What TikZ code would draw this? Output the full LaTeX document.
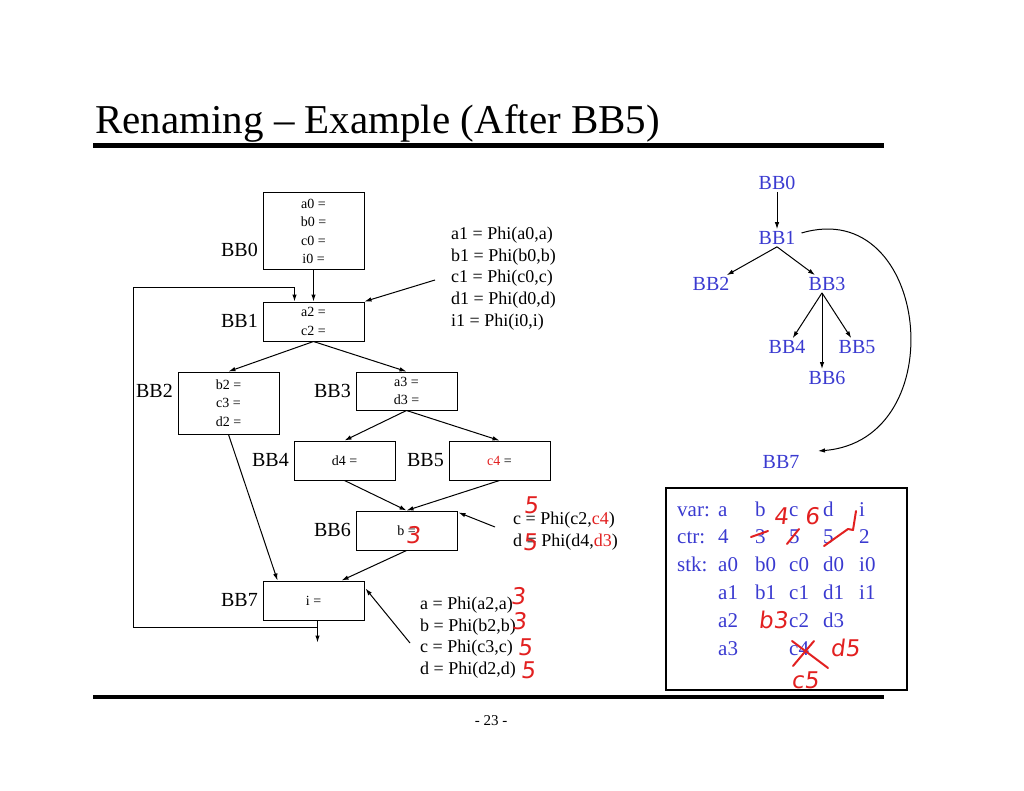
\documentclass[tikz,border=0pt]{standalone}
\usepackage{fontspec}
\setmainfont{Liberation Serif}
\newfontfamily\handfont[FakeSlant=0.12]{DejaVu Sans}
\usetikzlibrary{arrows.meta, calc}
\definecolor{slideRed}{RGB}{226,32,32}
\definecolor{domBlue}{RGB}{58,58,208}
\tikzset{
	block/.style={draw, line width=1pt, minimum width=101pt, inner sep=0pt, align=center, font=\fontsize{14}{18.3}\selectfont},
	bblabel/.style={anchor=east, inner sep=0pt, font=\fontsize{20}{24}\selectfont},
	phitext/.style={anchor=north west, align=left, inner sep=0pt, font=\fontsize{18}{21.6}\selectfont},
	flow/.style={line width=1pt, -{Latex[length=7pt, width=4.5pt]}},
	domnode/.style={text=domBlue, inner sep=2pt, font=\fontsize{20}{24}\selectfont},
	stktext/.style={text=domBlue, anchor=base west, inner sep=0pt, font=\fontsize{21}{25}\selectfont},
	hand/.style={text=slideRed, inner sep=0pt, font=\handfont\fontsize{23}{24}\selectfont},
	scrawl/.style={slideRed, line width=2pt, line cap=round, line join=round}
}

\begin{document}
\begin{tikzpicture}[x=1pt, y=-1pt]

	\useasboundingbox (0,0) rectangle (1024,791);

	% title and rules
	\node[anchor=base west, inner sep=0pt, font=\fontsize{41}{48}\selectfont] (title) at (95,134) {Renaming -- Example (After BB5)};
	\draw[line width=5pt] (93,146) -- (884,146);
	\draw[line width=4.5pt] (93,697) -- (884,697);
	\node[font=\fontsize{15}{18}\selectfont] (pageno) at (491,721) {- 23 -};

	% control flow graph
	\node[block, minimum height=77pt] (b0) at (313.5,231.5) {a0 =\\ b0 =\\ c0 =\\ i0 =};
	\node[block, minimum height=39pt] (b1) at (313.5,321.5) {a2 =\\ c2 =};
	\node[block, minimum height=62pt] (b2) at (228.5,403) {b2 =\\ c3 =\\ d2 =};
	\node[block, minimum height=38pt] (b3) at (406.5,391) {a3 =\\ d3 =};
	\node[block, minimum height=39pt] (b4) at (344.5,460.5) {d4 =};
	\node[block, minimum height=39pt] (b5) at (499.5,460.5) {\textcolor{slideRed}{c4} =};
	\node[block, minimum height=39pt] (b6) at (406.5,530.5) {b =};
	\node[block, minimum height=39pt] (b7) at (313.5,600.5) {i =};

	\node[bblabel] (l0) at (258,250) {BB0};
	\node[bblabel] (l1) at (258,321) {BB1};
	\node[bblabel] (l2) at (173,391) {BB2};
	\node[bblabel] (l3) at (351,391) {BB3};
	\node[bblabel] (l4) at (289,460) {BB4};
	\node[bblabel] (l5) at (444,460) {BB5};
	\node[bblabel] (l6) at (351,530) {BB6};
	\node[bblabel] (l7) at (258,600) {BB7};

	\draw[flow] (b0) -- (b1);
	\draw[flow] (b1.south) -- (b2.north);
	\draw[flow] (b1.south) -- (b3.north);
	\draw[flow] (b3.south) -- (b4.north);
	\draw[flow] (b3.south) -- (b5.north);
	\draw[flow] (b4.south) -- (b6.north);
	\draw[flow] (b5.south) -- (b6.north);
	\draw[flow] (b6.south) -- ($(b7.north)+(28,0)$);
	\draw[flow] (b2.south) -- ($(b7.north west)+(15,0)$);

	% back edge and exit
	\coordinate (loopL) at (133,288);
	\draw[flow] ($(b7.south)+(4,0)$) -- ++(0,22);
	\draw[flow] ($(b7.south)+(4,7)$) -| (loopL) -| ($(b1.north)+(-19,0)$);

	% phi functions
	\node[phitext] (phi1) at (451,227) {a1 = Phi(a0,a)\\ b1 = Phi(b0,b)\\ c1 = Phi(c0,c)\\ d1 = Phi(d0,d)\\ i1 = Phi(i0,i)};
	\node[phitext] (phi6) at (513,512) {c = Phi(c2,\textcolor{slideRed}{c4})\\ d = Phi(d4,\textcolor{slideRed}{d3})};
	\node[phitext] (phi7) at (420,597) {a = Phi(a2,a)\\ b = Phi(b2,b)\\ c = Phi(c3,c)\\ d = Phi(d2,d)};

	\coordinate (p1) at (435,280);
	\coordinate (p6) at (495,527);
	\coordinate (p7) at (410,643);
	\draw[flow] (p1) -- (b1.north east);
	\draw[flow] (p6) -- ($(b6.north east)+(1,2)$);
	\draw[flow] (p7) -- ($(b7.north east)+(1,8)$);

	% dominator tree
	\node[domnode] (t0) at (777,183) {BB0};
	\node[domnode] (t1) at (777,238) {BB1};
	\node[domnode] (t2) at (711,284) {BB2};
	\node[domnode] (t3) at (827,284) {BB3};
	\node[domnode] (t4) at (787,347) {BB4};
	\node[domnode] (t5) at (857,347) {BB5};
	\node[domnode] (t6) at (827,378) {BB6};
	\node[domnode] (t7) at (781,462) {BB7};

	\draw[flow] (t0) -- (t1);
	\draw[flow] (t1.south) -- (t2);
	\draw[flow] (t1.south) -- (t3);
	\draw[flow] ($(t3.south)+(-5,0)$) -- (t4);
	\draw[flow] ($(t3.south)+(-5,0)$) -- (t5);
	\draw[flow] ($(t3.south)+(-5,0)$) -- ($(t6.north)+(-5,0)$);
	\coordinate (t7in) at (818,451);
	\draw[flow] ($(t1.east)+(4,-5)$) .. controls (930,195) and (955,440) .. (t7in);

	% rename stacks
	\node[draw, line width=1.2pt, minimum width=241pt, minimum height=202pt, inner sep=0pt] (tbl) at (786.5,589) {};
	\foreach \ry/\ca/\cb/\cc/\cd/\ce/\cf [count=\r] in {516/var:/a/b/c/d/i, 543.5/ctr:/4/3/5/5/2, 571/stk:/a0/b0/c0/d0/i0, 599//a1/b1/c1/d1/i1, 627//a2//c2/d3/, 655//a3//c4//}{
		\node[stktext] (s\r-0) at (677,\ry) {\ca};
		\node[stktext] (s\r-1) at (718,\ry) {\cb};
		\node[stktext] (s\r-2) at (755,\ry) {\cc};
		\node[stktext] (s\r-3) at (789,\ry) {\cd};
		\node[stktext] (s\r-4) at (823,\ry) {\ce};
		\node[stktext] (s\r-5) at (859,\ry) {\cf};
	}

	% handwritten marks
	\node[hand] (h1) at (413,535) {3};
	\node[hand] (h2) at (531,505) {5};
	\node[hand] (h3) at (530,542) {5};
	\node[hand] (h4) at (518,596) {3};
	\node[hand] (h5) at (519,621) {3};
	\node[hand] (h6) at (525,647) {5};
	\node[hand] (h7) at (528,670) {5};
	\node[hand] (h8) at (781,516) {4};
	\node[hand] (h9) at (812,516) {6};
	\node[hand] (h10) at (773,620) {b3};
	\node[hand] (h11) at (845,648) {d5};
	\node[hand] (h12) at (805,680) {c5};
	\draw[scrawl] (751,537) -- (768,531);
	\draw[scrawl] (787,544) -- (799,529);
	\draw[scrawl] (824,546) -- (848,529) -- (853,530) -- (856,511);
	\draw[scrawl] (792,641) -- (828,668);
	\draw[scrawl] (793,666) -- (814,641);

\end{tikzpicture}
\end{document}
